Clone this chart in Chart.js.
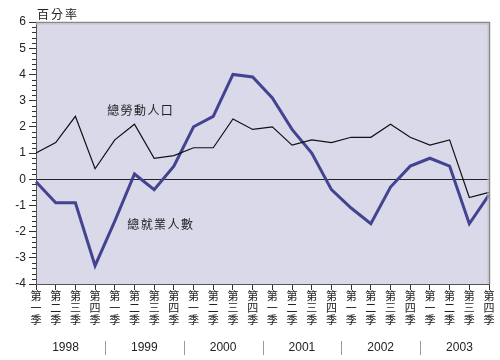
<!DOCTYPE html>
<html><head><meta charset="utf-8">
<script src="https://cdn.jsdelivr.net/npm/chart.js@4/dist/chart.umd.min.js"></script>
<style>html,body{margin:0;padding:0;background:#fff}#wrap{width:500px;height:360px;position:relative}</style>
</head><body><div id="wrap"><canvas id="c" width="500" height="360"></canvas></div>
<script>
const quarterNames = ['第一季','第二季','第三季','第四季'];
const years = ['1998','1999','2000','2001','2002','2003'];
const yTicks = [-4,-3,-2,-1,0,1,2,3,4,5,6];
const labourForce = [1.0,1.4,2.4,0.4,1.5,2.1,0.8,0.9,1.2,1.2,2.3,1.9,2.0,1.3,1.5,1.4,1.6,1.6,2.1,1.6,1.3,1.5,-0.7,-0.5];
const employment = [-0.1,-0.9,-0.9,-3.3,-1.6,0.2,-0.4,0.5,2.0,2.4,4.0,3.9,3.1,1.9,1.0,-0.4,-1.1,-1.7,-0.3,0.5,0.8,0.5,-1.7,-0.6];
const yTitle = '百分率';
const labourName = '總勞動人口';
const employName = '總就業人數';

const labels = [];
years.forEach(y => quarterNames.forEach(q => labels.push(q.split(''))));

const CJK = '"Noto Sans CJK TC","Noto Sans CJK SC",sans-serif';

const deco = {
  id: 'deco',
  beforeDraw(chart) {
    const {ctx, chartArea: a} = chart;
    ctx.save();
    ctx.fillStyle = '#d9d9e9';
    ctx.fillRect(a.left, a.top, a.right - a.left, a.bottom - a.top);
    ctx.restore();
  },
  afterDraw(chart) {
    const {ctx, chartArea: a} = chart;
    const xs = chart.scales.x, ys = chart.scales.y;
    ctx.save();
    ctx.strokeStyle = '#333';
    ctx.lineWidth = 1;
    for (let i = 0; i < yTicks.length - 1; i++) {
      for (let k = 1; k < 5; k++) {
        const v = yTicks[i] + k * 0.2;
        const py = Math.round(ys.getPixelForValue(v)) + 0.5;
        ctx.beginPath(); ctx.moveTo(a.left - 4, py); ctx.lineTo(a.left, py); ctx.stroke();
      }
    }
    ctx.strokeStyle = '#8a8a8a';
    ctx.lineWidth = 1.5;
    ctx.beginPath();
    ctx.moveTo(a.left, a.top + 0.5); ctx.lineTo(a.right + 0.5, a.top + 0.5); ctx.lineTo(a.right + 0.5, a.bottom);
    ctx.stroke();
    ctx.strokeStyle = '#c4c4cc';
    ctx.lineWidth = 1;
    ctx.beginPath();
    ctx.moveTo(a.left, a.top + 2); ctx.lineTo(a.right - 1, a.top + 2); ctx.lineTo(a.right - 1, a.bottom);
    ctx.stroke();
    ctx.fillStyle = '#222';
    ctx.font = '12px ' + CJK;
    ctx.textBaseline = 'middle';
    const drawSpaced = (txt, cx, cy, step) => {
      const chars = txt.split('');
      const start = cx - step * (chars.length - 1) / 2;
      ctx.textAlign = 'center';
      chars.forEach((ch, i) => ctx.fillText(ch, start + i * step, cy));
    };
    drawSpaced(yTitle, 57, 14, 14);
    drawSpaced(labourName, xs.getPixelForValue(5.28), ys.getPixelForValue(2.64), 13.4);
    drawSpaced(employName, xs.getPixelForValue(6.3), ys.getPixelForValue(-1.72), 13.4);
    ctx.font = '12px "Liberation Sans", Arial, sans-serif';
    ctx.textAlign = 'center';
    years.forEach((y, i) => {
      const cx = xs.getPixelForValue(i * 4 + 1.5);
      ctx.fillText(y, cx, 348);
    });
    ctx.strokeStyle = '#999';
    ctx.lineWidth = 1;
    for (let i = 1; i < years.length; i++) {
      const px = Math.round(xs.getPixelForValue(i * 4 - 0.5)) + 0.5;
      ctx.beginPath(); ctx.moveTo(px, 341); ctx.lineTo(px, 355); ctx.stroke();
    }
    ctx.restore();
  }
};

new Chart(document.getElementById('c'), {
  type: 'line',
  data: {
    labels: labels,
    datasets: [
      {label: labourName, data: labourForce, borderColor: '#111', borderWidth: 1.2, pointRadius: 0, tension: 0, fill: false},
      {label: employName, data: employment, borderColor: '#434391', borderWidth: 3, pointRadius: 0, tension: 0, fill: false}
    ]
  },
  options: {
    responsive: false,
    animation: false,
    layout: {padding: {top: 22, right: 11, left: 0, bottom: 0}},
    plugins: {legend: {display: false}, tooltip: {enabled: false}},
    scales: {
      x: {
        offset: false,
        afterFit(s) { s.height = 76; },
        grid: {drawOnChartArea: false, drawTicks: true, tickLength: 6, tickColor: '#333'},
        border: {color: '#555', width: 1},
        ticks: {autoSkip: false, maxRotation: 0, minRotation: 0, padding: 0, color: '#222',
          font: {family: CJK, size: 11, lineHeight: 1.1}}
      },
      y: {
        min: -4, max: 6,
        afterFit(s) { s.width = 36; },
        afterBuildTicks(s) { s.ticks = yTicks.map(v => ({value: v})); },
        grid: {
          drawOnChartArea: true, tickLength: 7,
          color: c => (c.tick && c.tick.value === 0) ? '#222' : 'rgba(0,0,0,0)',
          tickColor: '#333'
        },
        border: {color: '#555', width: 1},
        ticks: {padding: 3, color: '#222', font: {family: '"Liberation Sans", Arial, sans-serif', size: 12}}
      }
    }
  },
  plugins: [deco]
});
</script>
</body></html>
